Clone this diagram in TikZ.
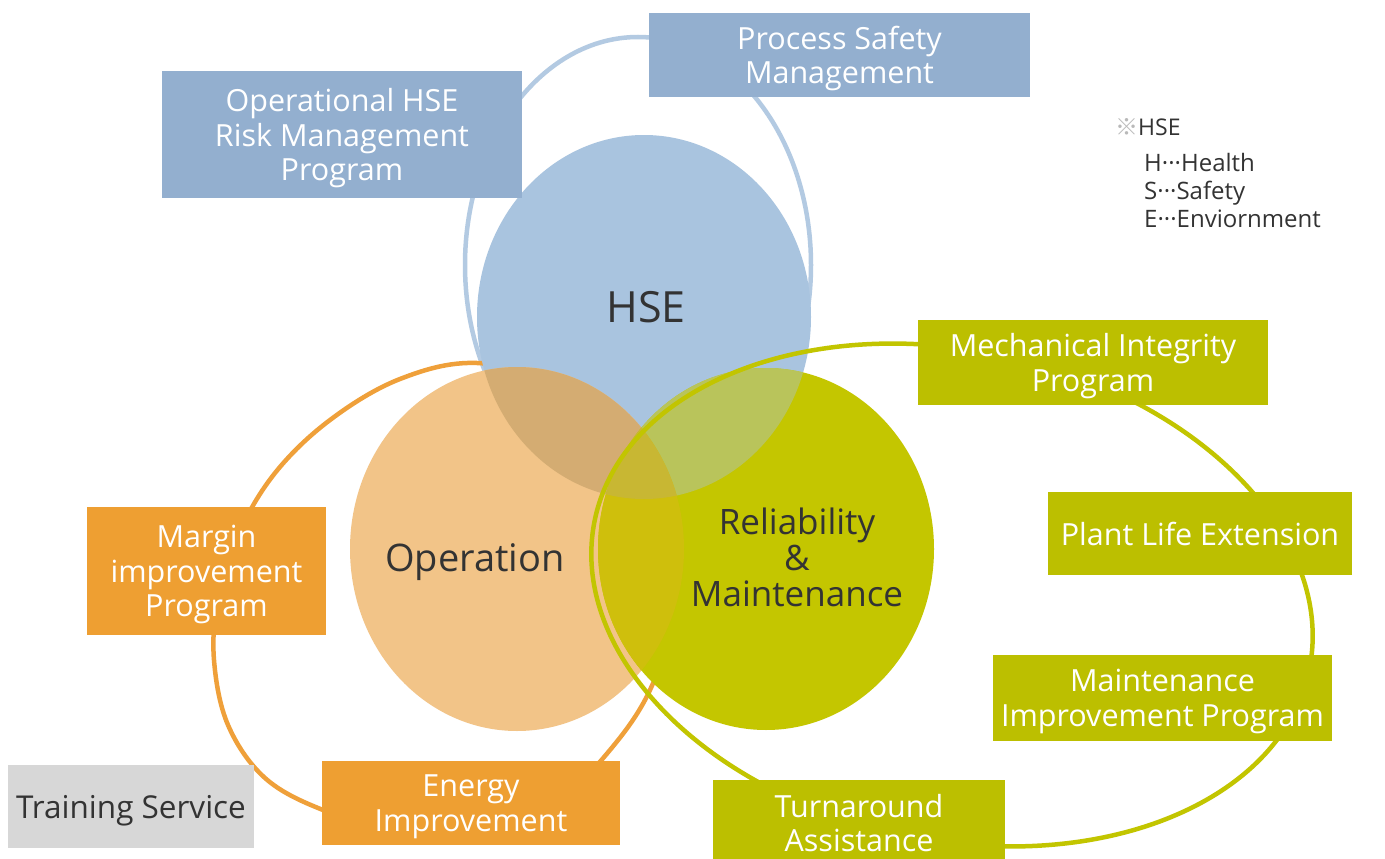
\documentclass[tikz,border=0pt]{standalone}
\usepackage{fontspec}
\setmainfont{Open Sans}
\newfontfamily\cjkfont{Noto Sans CJK JP}
\definecolor{hsec}{HTML}{A9C4DF}
\definecolor{opc}{HTML}{F2C488}
\definecolor{relc}{HTML}{C4C600}
\definecolor{hoc}{HTML}{D4AC72}
\definecolor{hrc}{HTML}{B9C45B}
\definecolor{orc}{HTML}{CFBF0C}
\definecolor{tric}{HTML}{C8B733}
\definecolor{bluebox}{HTML}{93AFCF}
\definecolor{orbox}{HTML}{EE9F32}
\definecolor{grbox}{HTML}{BCBF00}
\definecolor{blueline}{HTML}{B3CAE2}
\definecolor{orline}{HTML}{EFA03A}
\definecolor{grline}{HTML}{C2C500}
\definecolor{greybox}{HTML}{D7D7D7}
\definecolor{txt}{HTML}{333333}
\begin{document}
\begin{tikzpicture}[x=1pt,y=-1pt,
  box/.style={fill=#1, text=white, align=center, inner sep=0pt, text depth=0pt,
    font=\fontsize{30.5}{34.5}\selectfont},
  lbl/.style={text=txt, align=center, inner sep=0pt},
  loop/.style={line width=4.5pt, draw=#1}]
\useasboundingbox[fill=white] (0,0) rectangle (1385,859);
% outer loops behind circles
\draw[loop=blueline] (638,265) ellipse [x radius=173pt, y radius=228pt];
\draw[loop=orline] plot[smooth cycle, tension=0.6] coordinates {
  (477,363) (400,379) (330,420) (275,473) (238,535) (218,600) (214,660)
  (228,725) (265,778) (323,810) (400,832) (490,828) (560,798) (610,750)
  (650,690) (675,610) (672,520) (640,440) (570,385)};
% main circles
\fill[hsec] (644,317) ellipse [x radius=167pt, y radius=182pt];
\fill[opc] (517,549) ellipse [x radius=167pt, y radius=182pt];
\fill[relc] (766,549) ellipse [x radius=168pt, y radius=181pt];
\begin{scope}
  \clip (644,317) ellipse [x radius=167pt, y radius=182pt];
  \fill[hoc] (517,549) ellipse [x radius=167pt, y radius=182pt];
\end{scope}
\begin{scope}
  \clip (644,317) ellipse [x radius=167pt, y radius=182pt];
  \fill[hrc] (766,549) ellipse [x radius=168pt, y radius=181pt];
\end{scope}
\begin{scope}
  \clip (517,549) ellipse [x radius=167pt, y radius=182pt];
  \fill[orc] (766,549) ellipse [x radius=168pt, y radius=181pt];
\end{scope}
\begin{scope}
  \clip (644,317) ellipse [x radius=167pt, y radius=182pt];
  \clip (517,549) ellipse [x radius=167pt, y radius=182pt];
  \fill[tric] (766,549) ellipse [x radius=168pt, y radius=181pt];
\end{scope}
% green loop on top
\draw[loop=grline, rotate around={-12:(952,595)}]
  (952,595) ellipse [x radius=365pt, y radius=245pt];
% boxes
\node[box=bluebox, minimum width=360pt, minimum height=127pt] (ohse) at (342,134.5)
  {Operational HSE\\Risk Management\\Program};
\node[box=bluebox, minimum width=381pt, minimum height=84pt] (psm) at (839.5,55)
  {Process Safety\\Management};
\node[box=grbox, minimum width=350pt, minimum height=85pt] (mip) at (1093,362.5)
  {Mechanical Integrity\\Program};
\node[box=grbox, minimum width=304pt, minimum height=83pt] (ple) at (1200,533.5)
  {Plant Life Extension};
\node[box=grbox, minimum width=339pt, minimum height=86pt] (mimp) at (1162.5,698)
  {Maintenance\\Improvement Program};
\node[box=grbox, minimum width=292pt, minimum height=86pt] (ta) at (859,823)
  {Turnaround\\Assistance};
\node[box=orbox, minimum width=298pt, minimum height=84pt] (ei) at (471,803)
  {Energy\\Improvement};
\node[box=orbox, minimum width=239pt, minimum height=128pt] (mim) at (206.5,571)
  {Margin\\improvement\\Program};
\node[box=greybox, text=txt, minimum width=246pt, minimum height=83pt,
  font=\fontsize{31.5}{34.5}\selectfont] (ts) at (131,806.5)
  {Training Service};
% circle labels
\node[lbl, font=\fontsize{43}{50}\selectfont] (hsel) at (646,307) {HSE};
\node[lbl, font=\fontsize{38}{44}\selectfont] (opl) at (475,562) {Operation};
\node[lbl, font=\fontsize{35}{36}\selectfont] (rell) at (797,557)
  {Reliability\\\&\\Maintenance};
% legend
\node[lbl, anchor=west, font=\fontsize{23}{28}\selectfont] (legh) at (1115,127)
  {{\cjkfont\color{gray!55}※}HSE};
\node[lbl, anchor=north west, align=left, font=\fontsize{24}{28}\selectfont] (legl) at (1144,153)
  {H···Health\\S···Safety\\E···Enviornment};
\end{tikzpicture}
\end{document}
